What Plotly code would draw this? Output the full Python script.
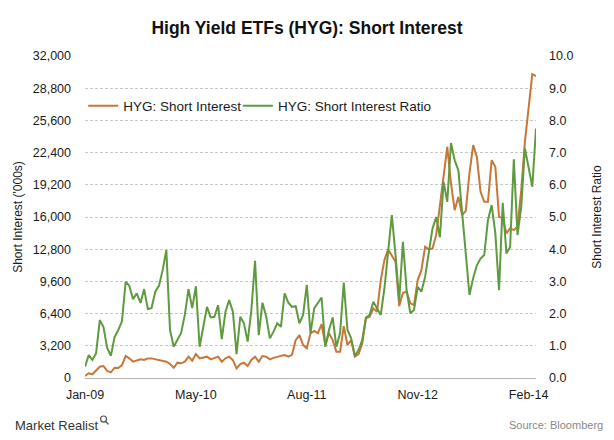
import plotly.graph_objects as go

# HYG short interest ('000s) and short interest ratio
short_interest = [
    200, 470, 370, 700, 1120, 1190, 700, 570, 1020, 990,
    1290, 2180, 1950, 1620, 1720, 1850, 1790, 1950, 1950, 1850,
    1750, 1690, 1620, 1390, 1020, 1520, 1460, 1620, 2120, 1720,
    2380, 1950, 2050, 2120, 1850, 2000, 2120, 1620, 1950, 2120,
    1790, 960, 1390, 1520, 1190, 1790, 2120, 1620, 2180, 2120,
    1850, 2000, 2120, 2200, 2280, 2120, 2300, 3770, 4270, 3280,
    2950, 4440, 4670, 4440, 5360, 3280, 4440, 3770, 2610, 2610,
    5160, 3280, 3770, 2120, 2380, 3440, 5930, 6090, 6920, 6590,
    9730, 11720, 12780, 12210, 11550, 7150, 8470, 8570, 7420, 7250,
    9730, 10720, 13040, 12780, 12880, 14200, 17010, 19990, 22970, 19330,
    16680, 18000, 16190, 16610, 20330, 23140, 21980, 18500, 17510, 17510,
    21650, 20980, 16020, 15860, 14370, 14870, 14700, 15020, 18670, 23460,
    26780, 30190, 29990,
]
short_ratio = [
    0.35, 0.71, 0.56, 0.77, 1.80, 1.58, 0.93, 0.69, 1.27, 1.49,
    1.77, 2.99, 2.86, 2.45, 2.63, 2.33, 2.76, 2.14, 2.17, 2.68,
    2.86, 3.35, 3.97, 1.49, 0.97, 1.21, 1.40, 1.96, 2.76, 2.17,
    2.85, 0.97, 1.60, 2.21, 1.88, 1.90, 2.26, 1.21, 2.06, 2.42,
    2.06, 0.74, 1.90, 1.70, 1.13, 2.11, 3.64, 1.33, 2.34, 1.92,
    1.23, 1.44, 1.70, 1.59, 2.63, 2.34, 2.21, 2.23, 1.70, 1.96,
    2.89, 1.39, 2.16, 2.32, 2.50, 0.97, 1.49, 1.88, 0.97, 1.39,
    2.96, 1.49, 1.23, 0.68, 0.87, 1.18, 1.88, 1.96, 2.37, 2.16,
    1.96, 2.78, 3.87, 5.06, 3.82, 2.42, 4.23, 2.73, 2.01, 2.11,
    2.83, 2.68, 3.14, 3.87, 4.64, 5.00, 4.37, 6.09, 5.47, 7.30,
    6.76, 6.45, 5.21, 3.76, 2.58, 3.10, 3.50, 3.71, 3.82, 4.90,
    5.37, 4.49, 2.73, 5.44, 3.87, 4.07, 6.79, 4.44, 5.31, 7.13,
    6.56, 5.94, 7.75,
]
x_idx = list(range(len(short_interest)))

tick_idx = [0, 30, 60, 90, 120]
tick_text = ["Jan-09", "May-10", "Aug-11", "Nov-12", "Feb-14"]

font = "Liberation Sans, Arial, sans-serif"
ink = "#1a1a1a"

fig = go.Figure()
fig.add_trace(go.Scatter(
    x=x_idx, y=short_interest, name="HYG: Short Interest",
    mode="lines", line=dict(color="#C8763A", width=2), legend="legend"))
fig.add_trace(go.Scatter(
    x=x_idx, y=short_ratio, name="HYG: Short Interest Ratio",
    mode="lines", line=dict(color="#5E9A3F", width=2), yaxis="y2", legend="legend2"))

leg = dict(orientation="h", y=0.845, xanchor="left", yanchor="middle",
           font=dict(size=13.5, color=ink), bgcolor="rgba(0,0,0,0)", itemwidth=30)

fig.update_layout(
    width=614, height=440,
    margin=dict(l=85, r=78, t=56, b=62),
    paper_bgcolor="white", plot_bgcolor="white",
    font=dict(family=font, size=12, color=ink),
    title=dict(text="<b>High Yield ETFs (HYG): Short Interest</b>",
               x=0.5, xanchor="center", y=0.936, yanchor="middle",
               font=dict(size=17.5, color="#111")),
    showlegend=True,
    legend=dict(leg, x=-0.004),
    legend2=dict(leg, x=0.339),
    xaxis=dict(range=[0, len(x_idx) - 1], tickvals=tick_idx, ticktext=tick_text,
               showgrid=False, zeroline=False, showline=True,
               linecolor="#b5b5b5", linewidth=1, ticks="", ticklabelstandoff=5,
               tickfont=dict(size=12.5, color=ink)),
    yaxis=dict(range=[0, 32000], dtick=3200, tickformat=",",
               showgrid=True, gridcolor="#c8c8c8", griddash="3px,2px", gridwidth=1,
               zeroline=False, ticks="", ticklabelstandoff=13,
               title=dict(text="Short Interest ('000s)", font=dict(size=12, color=ink),
                          standoff=7),
               tickfont=dict(size=12.5, color=ink)),
    yaxis2=dict(range=[0, 10], dtick=1, tickformat=".1f", overlaying="y",
                side="right", showgrid=False, zeroline=False, ticks="",
                ticklabelstandoff=12,
                title=dict(text="Short Interest Ratio", font=dict(size=12, color=ink),
                           standoff=20),
                tickfont=dict(size=12.5, color=ink)),
)

fig.add_annotation(text="Market Realist", xref="paper", yref="paper",
                   x=-0.16, y=-0.146, xanchor="left", yanchor="middle",
                   showarrow=False, font=dict(size=13, color="#333"))
fig.add_annotation(text="Source: Bloomberg", xref="paper", yref="paper",
                   x=1.153, y=-0.146, xanchor="right", yanchor="middle",
                   showarrow=False, font=dict(size=11, color="#888"))
# small magnifier mark of the logo
fig.add_shape(type="circle", xref="paper", yref="paper",
              x0=0.0345, x1=0.0478, y0=-0.137, y1=-0.118,
              line=dict(color="#555", width=1.2))
fig.add_shape(type="line", xref="paper", yref="paper",
              x0=0.0455, x1=0.0522, y0=-0.134, y1=-0.144,
              line=dict(color="#555", width=1.4))

fig.write_html("out.html", config={"displayModeBar": False},
               post_script="document.body.style.margin='0';")
